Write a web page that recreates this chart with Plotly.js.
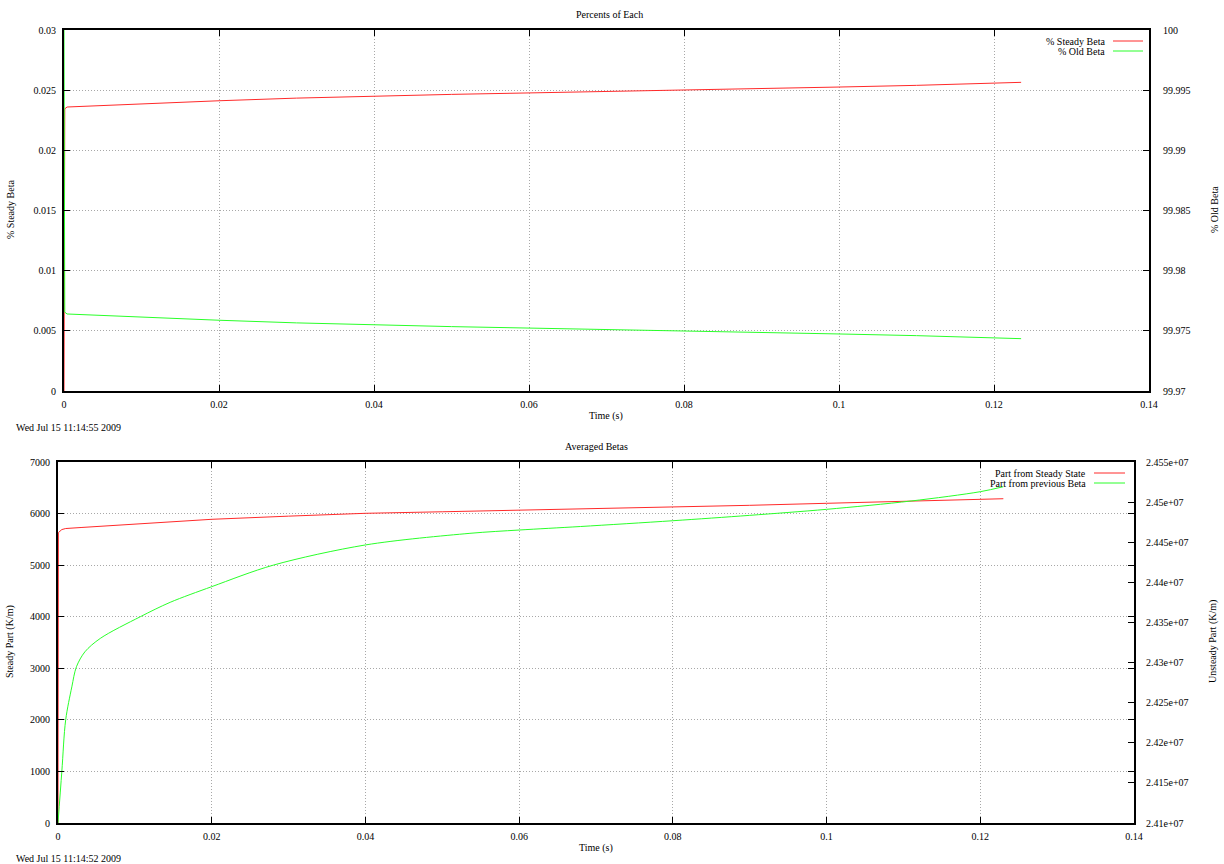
<!DOCTYPE html>
<html>
<head>
<meta charset="utf-8">
<script src="https://cdn.plot.ly/plotly-3.0.1.min.js"></script>
<style>html,body{margin:0;padding:0;background:#fff;}#chart{width:1224px;height:864px;}</style>
</head>
<body>
<div id="chart"></div>
<script>
// ---- Data ----
// Top panel: "Percents of Each"
const topTime = [0, 0.0001, 0.0004, 0.01, 0.02, 0.03, 0.04, 0.05, 0.06, 0.07, 0.08, 0.09, 0.1, 0.11, 0.12, 0.1235];
const topSteadyPct = [0, 0.02345, 0.0236, 0.02388, 0.02412, 0.02434, 0.02452, 0.02465, 0.02477, 0.02488, 0.025, 0.02512, 0.02526, 0.0254, 0.02554, 0.02565];
const topOldPct = [100, 99.97655, 99.9764, 99.97612, 99.97588, 99.97566, 99.97548, 99.97535, 99.97523, 99.97512, 99.975, 99.97488, 99.97474, 99.9746, 99.97446, 99.97435];

// Bottom panel: "Averaged Betas"
const botTimeSteady = [0, 0.00005, 0.0005, 0.001, 0.003, 0.01, 0.02, 0.03, 0.04, 0.05, 0.06, 0.07, 0.08, 0.09, 0.1, 0.11, 0.12, 0.123];
const botSteadyPart = [0, 5630, 5690, 5710, 5730, 5800, 5889, 5950, 6005, 6035, 6063, 6090, 6121, 6160, 6199, 6238, 6277, 6288];
const botTimePrev = [0, 0.0005, 0.001, 0.0018, 0.0024, 0.0035, 0.0055, 0.0107, 0.0146, 0.02, 0.028, 0.04, 0.0536, 0.06, 0.068, 0.08, 0.09, 0.1, 0.111, 0.12, 0.123];
const botPrevPart = [24100000, 24164300, 24228600, 24269700, 24294800, 24313400, 24330100, 24357100, 24375100, 24394600, 24421400, 24446600, 24461100, 24465200, 24469600, 24476800, 24483500, 24491000, 24501400, 24513000, 24519200];

// Tick labels
const topRightTickVals = [99.97, 99.975, 99.98, 99.985, 99.99, 99.995, 100];
const topRightTickText = ["99.97", "99.975", "99.98", "99.985", "99.99", "99.995", "100"];
const botRightTickVals = [24100000, 24150000, 24200000, 24250000, 24300000, 24350000, 24400000, 24450000, 24500000, 24550000];
const botRightTickText = ["2.41e+07", "2.415e+07", "2.42e+07", "2.425e+07", "2.43e+07", "2.435e+07", "2.44e+07", "2.445e+07", "2.45e+07", "2.455e+07"];

// Text
const topTitle = "Percents of Each";
const botTitle = "Averaged Betas";
const xTitle = "Time (s)";
const topLeftTitle = "% Steady Beta";
const topRightTitle = "% Old Beta";
const botLeftTitle = "Steady Part (K/m)";
const botRightTitle = "Unsteady Part (K/m)";
const topStamp = "Wed Jul 15 11:14:55 2009";
const botStamp = "Wed Jul 15 11:14:52 2009";
const topNames = ["% Steady Beta", "% Old Beta"];
const botNames = ["Part from Steady State", "Part from previous Beta"];

// ---- Layout helpers ----
const W = 1224, H = 864;
const px = x => x / W;
const py = y => 1 - y / H;
const RED = "#ff2a2a", GREEN = "#2aff2a";
const FONT = {family: "Liberation Serif, Times New Roman, serif", size: 10, color: "#000"};

const baseAxis = {
  showline: true, linecolor: "#000", linewidth: 2,
  ticks: "inside", ticklen: 6, tickwidth: 1, tickcolor: "#000",
  zeroline: false, tickfont: FONT, fixedrange: true
};
const gridAxis = Object.assign({}, baseAxis, {
  showgrid: true, gridcolor: "#a8a8a8", gridwidth: 1, griddash: "1px,2px"
});

const traces = [
  {x: topTime, y: topSteadyPct, name: topNames[0], type: "scatter", mode: "lines",
   line: {color: RED, width: 1}, xaxis: "x", yaxis: "y", showlegend: false},
  {x: topTime, y: topOldPct, name: topNames[1], type: "scatter", mode: "lines",
   line: {color: GREEN, width: 1}, xaxis: "x", yaxis: "y2", showlegend: false},
  {x: botTimeSteady, y: botSteadyPart, name: botNames[0], type: "scatter", mode: "lines",
   line: {color: RED, width: 1}, xaxis: "x2", yaxis: "y3", showlegend: false},
  {x: botTimePrev, y: botPrevPart, name: botNames[1], type: "scatter", mode: "lines",
   line: {color: GREEN, width: 1, shape: "spline", smoothing: 0.9}, xaxis: "x2", yaxis: "y4", showlegend: false}
];

function ann(text, x, y, opts) {
  return Object.assign({text: text, x: px(x), y: py(y), xref: "paper", yref: "paper",
    showarrow: false, font: FONT, xanchor: "center", yanchor: "middle"}, opts || {});
}
function legLine(x0, x1, y, color) {
  return {type: "line", xref: "paper", yref: "paper", x0: px(x0), x1: px(x1), y0: py(y), y1: py(y),
    line: {color: color, width: 1}};
}

const layout = {
  width: W, height: H,
  margin: {l: 0, r: 0, t: 0, b: 0},
  paper_bgcolor: "#fff", plot_bgcolor: "#fff",
  font: FONT,
  showlegend: false,
  xaxis: Object.assign({}, gridAxis, {domain: [px(64), px(1149)], anchor: "y", range: [0, 0.14], dtick: 0.02, tick0: 0, mirror: "ticks", ticklabelstandoff: 3}),
  yaxis: Object.assign({}, gridAxis, {domain: [py(391), py(30)], anchor: "x", range: [0, 0.03], dtick: 0.005, tick0: 0, mirror: "ticks", ticklabelstandoff: 4}),
  yaxis2: Object.assign({}, baseAxis, {overlaying: "y", side: "right", anchor: "x", range: [99.97, 100], showgrid: false,
    tickmode: "array", tickvals: topRightTickVals, ticktext: topRightTickText, ticklabelstandoff: 10}),
  xaxis2: Object.assign({}, gridAxis, {domain: [px(58), px(1134)], anchor: "y3", range: [0, 0.14], dtick: 0.02, tick0: 0, mirror: "ticks", ticklabelstandoff: 3}),
  yaxis3: Object.assign({}, gridAxis, {domain: [py(823), py(462)], anchor: "x2", range: [0, 7000], dtick: 1000, tick0: 0, mirror: "ticks", ticklabelstandoff: 4}),
  yaxis4: Object.assign({}, baseAxis, {overlaying: "y3", side: "right", anchor: "x2", range: [24100000, 24550000], showgrid: false,
    tickmode: "array", tickvals: botRightTickVals, ticktext: botRightTickText, ticklabelstandoff: 8}),
  annotations: [
    ann(topTitle, 609, 14),
    ann(xTitle, 606, 416),
    ann(topStamp, 14, 427, {xanchor: "left"}),
    ann(topLeftTitle, 10, 210, {textangle: -90}),
    ann(topRightTitle, 1214, 210, {textangle: -90}),
    ann(botTitle, 596, 446),
    ann(xTitle, 596, 848),
    ann(botStamp, 14, 858, {xanchor: "left"}),
    ann(botLeftTitle, 10, 642, {textangle: -90}),
    ann(botRightTitle, 1213, 642, {textangle: -90}),
    ann(topNames[0], 1107, 41, {xanchor: "right"}),
    ann(topNames[1], 1107, 51, {xanchor: "right"}),
    ann(botNames[0], 1088, 473, {xanchor: "right"}),
    ann(botNames[1], 1088, 483, {xanchor: "right"})
  ],
  shapes: [
    legLine(1113, 1143, 41, RED),
    legLine(1113, 1143, 51, GREEN),
    legLine(1094, 1125, 473, RED),
    legLine(1094, 1125, 483, GREEN)
  ]
};

Plotly.newPlot("chart", traces, layout, {displayModeBar: false, staticPlot: true});
</script>
</body>
</html>
